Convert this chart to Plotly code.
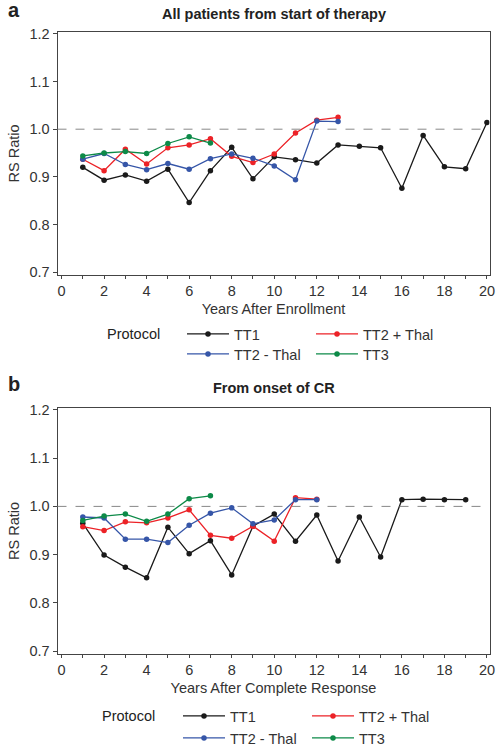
import plotly.graph_objects as go

years_a = list(range(1, 21))
tt1_a = [0.920, 0.893, 0.904, 0.891, 0.916, 0.846, 0.913, 0.962, 0.896, 0.942,
         0.936, 0.929, 0.967, 0.964, 0.961, 0.876, 0.987, 0.921, 0.917, 1.014]
tt2p_a = [0.937, 0.913, 0.958, 0.927, 0.961, 0.967, 0.980, 0.943, 0.930, 0.948,
          0.992, 1.019, 1.025]
tt2m_a = [0.937, 0.949, 0.926, 0.915, 0.928, 0.916, 0.938, 0.948, 0.939, 0.923,
          0.894, 1.017, 1.016]
tt3_a = [0.944, 0.950, 0.953, 0.949, 0.970, 0.984, 0.971]

tt1_b = [0.965, 0.899, 0.874, 0.852, 0.957, 0.902, 0.929, 0.858, 0.959, 0.984,
         0.928, 0.982, 0.887, 0.978, 0.895, 1.014, 1.015, 1.014, 1.014]
tt2p_b = [0.958, 0.950, 0.968, 0.966, 0.976, 0.993, 0.940, 0.934, 0.959, 0.928,
          1.018, 1.015]
tt2m_b = [0.978, 0.976, 0.932, 0.932, 0.925, 0.961, 0.986, 0.997, 0.964, 0.972,
          1.014, 1.014]
tt3_b = [0.971, 0.980, 0.984, 0.969, 0.984, 1.016, 1.022]

names = ["TT1", "TT2 + Thal", "TT2 - Thal", "TT3"]
colors = ["#1a1a1a", "#ec2227", "#3656a8", "#0d8a48"]
x_ticks = list(range(0, 21, 2))
y_ticks = [0.7, 0.8, 0.9, 1.0, 1.1, 1.2]

W, H = 500, 750
FONT = "Liberation Sans, Arial, sans-serif"
FS = 14.5

def px(v):
    return v / W

def py(v):
    return 1 - v / H

fig = go.Figure()

series_a = [tt1_a, tt2p_a, tt2m_a, tt3_a]
series_b = [tt1_b, tt2p_b, tt2m_b, tt3_b]
# legend rows: first row TT1 / TT2 + Thal, second row TT2 - Thal / TT3
legs_a = ["legend", "legend", "legend2", "legend2"]
legs_b = ["legend3", "legend3", "legend4", "legend4"]
for i in range(4):
    ys = series_a[i]
    fig.add_trace(go.Scatter(x=years_a[:len(ys)], y=ys, mode="lines+markers",
                             name=names[i], line=dict(color=colors[i], width=1.3),
                             marker=dict(color=colors[i], size=5.5),
                             xaxis="x", yaxis="y", legend=legs_a[i]))
for i in range(4):
    ys = series_b[i]
    fig.add_trace(go.Scatter(x=years_a[:len(ys)], y=ys, mode="lines+markers",
                             name=names[i], line=dict(color=colors[i], width=1.3),
                             marker=dict(color=colors[i], size=5.5),
                             xaxis="x2", yaxis="y2", legend=legs_b[i]))

xdom = [px(57.5), px(489.5)]
common_x = dict(range=[-0.19, 20.12], tickvals=x_ticks, ticks="outside", ticklen=3,
                tickcolor="#444", showline=True, linecolor="#444", linewidth=1,
                mirror=True, showgrid=False, zeroline=False, automargin=False,
                tickfont=dict(size=FS, color="#333", family=FONT),
                minor=dict(tickvals=list(range(0, 21)), ticks="outside", ticklen=3,
                           tickcolor="#444"))
common_y = dict(range=[0.694, 1.204], tickvals=y_ticks, tickformat=".1f",
                ticks="outside", ticklen=4, tickcolor="#444", showline=True,
                linecolor="#444", linewidth=1, mirror=True, showgrid=False,
                zeroline=False, automargin=False,
                tickfont=dict(size=FS, color="#333", family=FONT),
                title=dict(text="RS Ratio", font=dict(size=FS, color="#333", family=FONT),
                           standoff=6))

leg_common = dict(orientation="h", xanchor="left", yanchor="top",
                  entrywidth=72, font=dict(size=FS, color="#333", family=FONT),
                  itemwidth=42, tracegroupgap=0, bgcolor="rgba(0,0,0,0)")

fig.update_layout(
    width=W, height=H, margin=dict(l=0, r=0, t=0, b=0, autoexpand=False),
    plot_bgcolor="white", paper_bgcolor="white",
    font=dict(family=FONT, color="#333"),
    xaxis=dict(domain=xdom, anchor="y",
               title=dict(text="Years After Enrollment",
                          font=dict(size=FS, color="#333", family=FONT), standoff=5),
               **common_x),
    yaxis=dict(domain=[py(275), py(32)], anchor="x", **common_y),
    xaxis2=dict(domain=xdom, anchor="y2",
                title=dict(text="Years After Complete Response",
                           font=dict(size=FS, color="#333", family=FONT), standoff=5),
                **common_x),
    yaxis2=dict(domain=[py(654), py(408)], anchor="x2", **common_y),
    legend=dict(x=px(182), y=py(318), **leg_common),
    legend2=dict(x=px(182), y=py(338), **leg_common),
    legend3=dict(x=px(178), y=py(700), **leg_common),
    legend4=dict(x=px(178), y=py(722), **leg_common),
    showlegend=True,
)

for yr in ["", "2"]:
    fig.add_shape(type="line", xref="x%s domain" % yr, yref="y%s" % yr,
                  x0=0, x1=1, y0=1.0, y1=1.0,
                  line=dict(color="#888", width=1, dash="dash"))

ann = [
    dict(text="<b>a</b>", x=px(6), y=py(10), size=20, anchor="left"),
    dict(text="<b>All patients from start of therapy</b>", x=px(274), y=py(14), size=14.5, anchor="center"),
    dict(text="<b>b</b>", x=px(6), y=py(384), size=20, anchor="left"),
    dict(text="<b>From onset of CR</b>", x=px(274), y=py(388), size=14.5, anchor="center"),
    dict(text="Protocol", x=px(105), y=py(334), size=FS, anchor="left"),
    dict(text="Protocol", x=px(100), y=py(716), size=FS, anchor="left"),
]
for a in ann:
    fig.add_annotation(text=a["text"], x=a["x"], y=a["y"], xref="paper", yref="paper",
                       xanchor=a["anchor"], yanchor="middle",
                       showarrow=False, font=dict(size=a["size"], color="#222", family=FONT))

fig.write_html("out.html", config={"displayModeBar": False},
               post_script="document.body.style.margin='0';document.body.style.overflow='hidden';")
